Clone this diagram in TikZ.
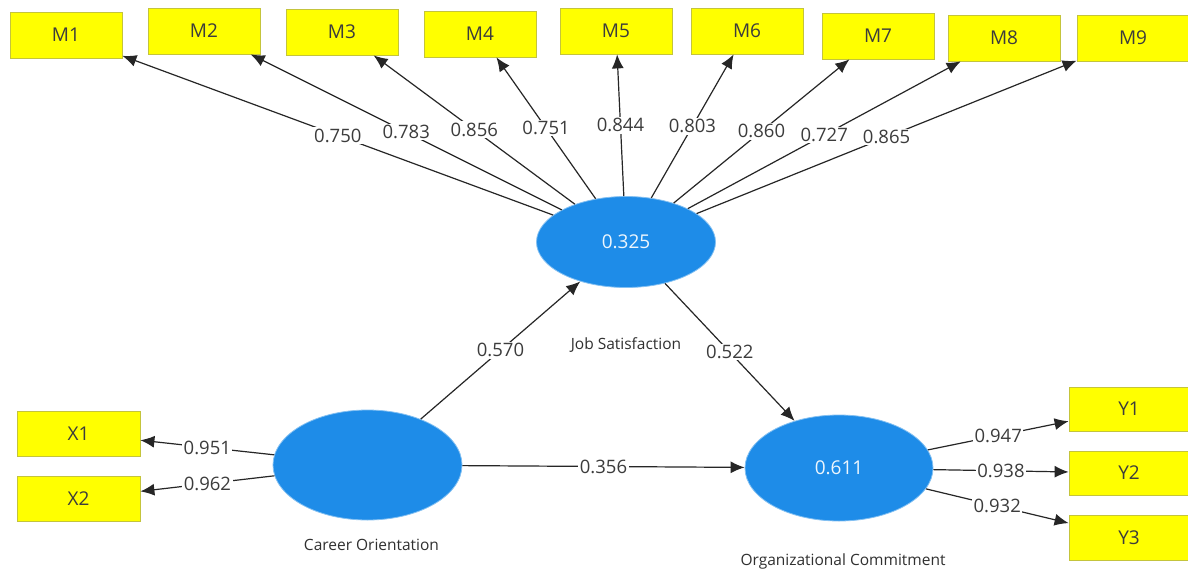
\documentclass[tikz,border=0pt]{standalone}
\usepackage{fontspec}
\setmainfont{Open Sans}
\usetikzlibrary{arrows.meta, positioning, shapes.geometric}
\usepackage{xcolor}
\definecolor{itemfill}{HTML}{FFFF00}
\definecolor{itemline}{HTML}{C4C43C}
\definecolor{lvblue}{HTML}{1E8CE8}
\definecolor{edgegray}{HTML}{262626}
\definecolor{textgray}{HTML}{3C3C3C}

\begin{document}
\begin{tikzpicture}[
  x=1pt, y=-1pt,
  indicator/.style={draw=itemline, fill=itemfill, line width=0.8pt, minimum width=112pt, minimum height=46pt, inner sep=0pt, text=textgray, font=\fontsize{19}{22}\selectfont},
  construct/.style={ellipse, fill=lvblue, draw=lvblue!55!white, line width=0.8pt, inner sep=0pt, text=white!92!lvblue, font=\fontsize{19}{22}\selectfont},
  lvname/.style={inner sep=0pt, text=textgray!80!black, font=\fontsize{15.5}{18}\selectfont},
  coef/.style={fill=white, inner sep=1.5pt, text=textgray, font=\fontsize{18.5}{20}\selectfont},
  arrow/.style={-{Latex[length=14pt, width=12pt]}, line width=1.2pt, color=edgegray}
]
  \clip (0,0) rectangle (1188,573);
  \fill[white] (0,0) rectangle (1188,573);

  % latent variables
  \node[construct, minimum width=179pt, minimum height=91pt] (js) at (626,242) {0.325};
  \node[construct, minimum width=189pt, minimum height=110pt] (co) at (367.5,465) {};
  \node[construct, minimum width=188pt, minimum height=106pt] (oc) at (839,468) {0.611};

  \node[lvname, below=50pt of js] (jsname) {Job Satisfaction};
  \node[lvname, below=19pt of co, xshift=4pt] (coname) {Career Orientation};
  \node[lvname, below=32pt of oc, xshift=4pt] (ocname) {Organizational Commitment};

  % indicators
  \node[indicator] (m1) at (66,35) {M1};
  \node[indicator] (m2) at (204,31) {M2};
  \node[indicator] (m3) at (342,32) {M3};
  \node[indicator] (m4) at (480,34) {M4};
  \node[indicator] (m5) at (616,31) {M5};
  \node[indicator] (m6) at (747,31) {M6};
  \node[indicator] (m7) at (878,36) {M7};
  \node[indicator] (m8) at (1004,38) {M8};
  \node[indicator] (m9) at (1133,38) {M9};

  \node[indicator, minimum width=123pt, minimum height=45pt] (x1) at (78.5,433.5) {X1};
  \node[indicator, minimum width=123pt, minimum height=45pt] (x2) at (78.5,498.5) {X2};

  \node[indicator, minimum width=120pt, minimum height=44pt] (y1) at (1129,409) {Y1};
  \node[indicator, minimum width=120pt, minimum height=44pt] (y2) at (1129,473) {Y2};
  \node[indicator, minimum width=120pt, minimum height=45pt] (y3) at (1129,537.5) {Y3};

  % outer loadings
  \draw[arrow] (js) -- node[coef] {0.750} (m1);
  \draw[arrow] (js) -- node[coef] {0.783} (m2);
  \draw[arrow] (js) -- node[coef] {0.856} (m3);
  \draw[arrow] (js) -- node[coef] {0.751} (m4);
  \draw[arrow] (js) -- node[coef] {0.844} (m5);
  \draw[arrow] (js) -- node[coef] {0.803} (m6);
  \draw[arrow] (js) -- node[coef] {0.860} (m7);
  \draw[arrow] (js) -- node[coef] {0.727} (m8);
  \draw[arrow] (js) -- node[coef] {0.865} (m9);

  \draw[arrow] (co) -- node[coef] {0.951} (x1);
  \draw[arrow] (co) -- node[coef] {0.962} (x2);

  \draw[arrow] (oc) -- node[coef] {0.947} (y1);
  \draw[arrow] (oc) -- node[coef] {0.938} (y2);
  \draw[arrow] (oc) -- node[coef] {0.932} (y3);

  % path coefficients
  \draw[arrow] (co) -- node[coef] {0.570} (js);
  \draw[arrow] (js) -- node[coef] {0.522} (oc);
  \draw[arrow] (co) -- node[coef] {0.356} (oc);
\end{tikzpicture}
\end{document}
